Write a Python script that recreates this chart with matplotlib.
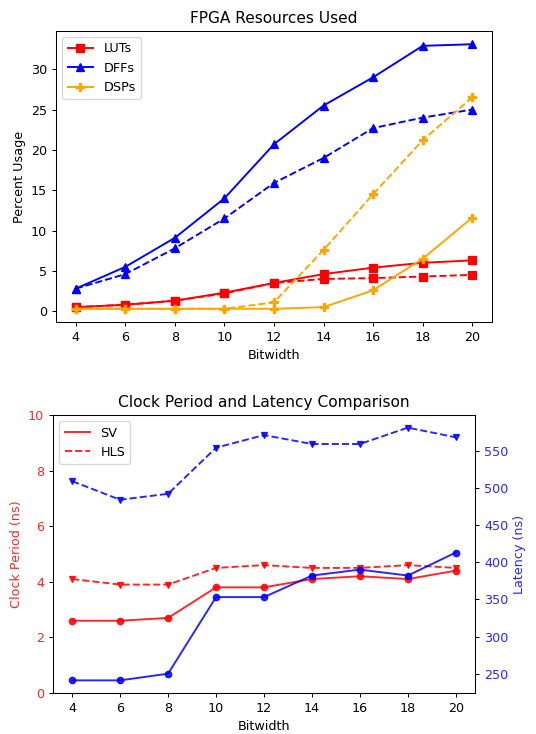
import numpy as np
import matplotlib
matplotlib.use('Agg')
from matplotlib import pyplot as plt
from matplotlib.lines import Line2D

# bitwidths swept
bitwidth = [4, 6, 8, 10, 12, 14, 16, 18, 20]

# resource usage (%) -- SV solid, HLS dashed
luts_sv = [0.5, 0.8, 1.3, 2.3, 3.5, 4.6, 5.4, 6.0, 6.3]
luts_hls = [0.5, 0.8, 1.3, 2.2, 3.5, 4.0, 4.1, 4.3, 4.5]
dffs_sv = [2.8, 5.5, 9.1, 14.0, 20.7, 25.5, 29.0, 32.9, 33.1]
dffs_hls = [2.8, 4.6, 7.8, 11.5, 15.9, 19.0, 22.7, 24.0, 25.0]
dsps_sv = [0.3, 0.3, 0.3, 0.3, 0.3, 0.5, 2.6, 6.5, 11.6]
dsps_hls = [0.3, 0.3, 0.3, 0.3, 1.1, 7.6, 14.5, 21.2, 26.5]

# clock period (ns) and latency (ns)
clk_sv = [2.6, 2.6, 2.7, 3.8, 3.8, 4.1, 4.2, 4.1, 4.4]
clk_hls = [4.1, 3.9, 3.9, 4.5, 4.6, 4.5, 4.5, 4.6, 4.5]
lat_sv = [241, 241, 250, 353, 353, 382, 390, 382, 413]
lat_hls = [509, 484, 492, 554, 571, 559, 559, 581, 568]

DPI = 92
fig = plt.figure(figsize=(536/DPI, 734/DPI), dpi=DPI)

# top plot: resources
ax1 = fig.add_axes([56/536, 412/734, 436/536, 291/734])
ax1.plot(bitwidth, luts_sv, color='red', marker='s', label='LUTs')
ax1.plot(bitwidth, luts_hls, color='red', marker='s', linestyle='--')
ax1.plot(bitwidth, dffs_sv, color='blue', marker='^', label='DFFs')
ax1.plot(bitwidth, dffs_hls, color='blue', marker='^', linestyle='--')
ax1.plot(bitwidth, dsps_sv, color='orange', marker='P', label='DSPs')
ax1.plot(bitwidth, dsps_hls, color='orange', marker='P', linestyle='--')
ax1.set_xticks(bitwidth)
ax1.set_title('FPGA Resources Used')
ax1.set_xlabel('Bitwidth')
ax1.set_ylabel('Percent Usage')
ax1.legend(loc='upper left')

# bottom plot: clock period + latency
ax2 = fig.add_axes([53/536, 41/734, 422/536, 278/734])
ax2.plot(bitwidth, clk_sv, color='red', marker='o', markersize=5, alpha=0.85)
ax2.plot(bitwidth, clk_hls, color='red', marker='v', markersize=5, linestyle='--', alpha=0.85)
ax2.set_ylim(0, 10)
ax2.set_xticks(bitwidth)
ax2.set_xlabel('Bitwidth')
ax2.set_ylabel('Clock Period (ns)', color='red', alpha=0.85)
ax2.tick_params(axis='y', labelcolor='red')
for t in ax2.get_yticklabels():
    t.set_alpha(0.85)
ax2.set_title('Clock Period and Latency Comparison')

ax3 = ax2.twinx()
ax3.plot(bitwidth, lat_sv, color='blue', marker='o', markersize=5, alpha=0.85)
ax3.plot(bitwidth, lat_hls, color='blue', marker='v', markersize=5, linestyle='--', alpha=0.85)
ax3.set_ylabel('Latency (ns)', color='blue', alpha=0.85)
ax3.tick_params(axis='y', labelcolor='blue')
for t in ax3.get_yticklabels():
    t.set_alpha(0.85)

handles = [Line2D([0], [0], color='red', alpha=0.85),
           Line2D([0], [0], color='red', linestyle='--', alpha=0.85)]
ax2.legend(handles, ['SV', 'HLS'], loc='upper left')

fig.savefig('out.png', dpi=DPI)
